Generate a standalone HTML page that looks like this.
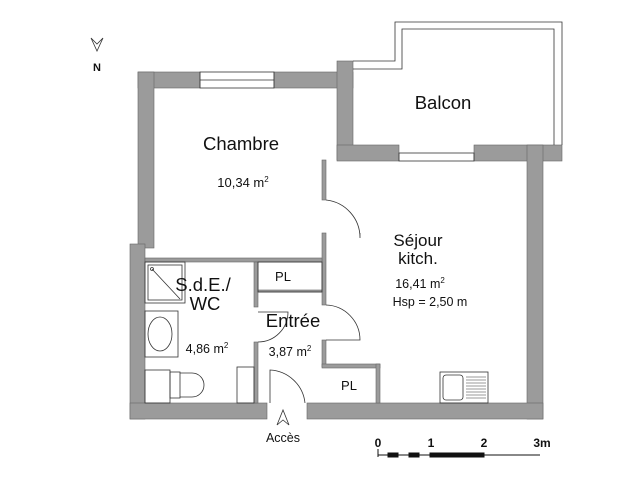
<!DOCTYPE html>
<html><head><meta charset="utf-8"><style>
html,body{margin:0;padding:0;background:#fff;}
svg{display:block;}
text{font-family:"Liberation Sans",Arial,sans-serif;fill:#111;}
</style></head><body>
<svg width="640" height="480" viewBox="0 0 640 480" xmlns="http://www.w3.org/2000/svg">
<g fill="#9b9b9b" stroke="#666" stroke-width="0.6">
<rect x="138" y="72" width="62" height="16"/>
<rect x="274" y="72" width="79" height="16"/>
<rect x="138" y="72" width="16" height="176"/>
<rect x="130" y="244" width="15" height="175"/>
<rect x="337" y="61" width="16" height="99"/>
<rect x="337" y="145" width="62" height="16"/>
<rect x="474" y="145" width="88" height="16"/>
<rect x="527" y="145" width="16" height="274"/>
<rect x="130" y="403" width="137" height="16"/>
<rect x="307" y="403" width="236" height="16"/>
<rect x="322" y="160" width="4" height="40"/>
<rect x="322" y="233" width="4" height="72"/>
<rect x="322" y="340" width="4" height="27"/>
<rect x="322" y="364" width="58" height="4"/>
<rect x="376" y="364" width="4" height="39"/>
<rect x="145" y="258" width="177" height="4"/>
<rect x="254" y="262" width="4" height="45"/>
<rect x="254" y="342" width="4" height="61"/>
<rect x="258" y="290" width="64" height="2" />
</g>
<g fill="none" stroke="#333" stroke-width="0.8">
<rect x="200" y="72" width="74" height="16"/><line x1="200" y1="80" x2="274" y2="80"/>
<rect x="399" y="153" width="75" height="8"/>
<path d="M353 61 H395 V22 H562 V145"/>
<path d="M353 69 H402 V29 H554 V145"/>
<path d="M326 200 A38 38 0 0 1 360 238 V233"/>
<path d="M326 305 A35 35 0 0 1 360 340 H326"/>
<path d="M258 342 A30 30 0 0 0 288 312 H258"/>
<path d="M270 403 V370 A37 37 0 0 1 305 403"/>
<rect x="258" y="262" width="64" height="30"/>
<rect x="145" y="262" width="40" height="41"/>
<rect x="148" y="265" width="34" height="35"/>
<line x1="152" y1="269" x2="180" y2="299"/>
<circle cx="152" cy="269" r="1.5"/>
<rect x="145" y="311" width="33" height="46"/>
<ellipse cx="160" cy="334" rx="12" ry="17"/>
<rect x="145" y="370" width="25" height="33"/>
<rect x="170" y="372" width="10" height="26"/>
<path d="M180 373 H192 A12 12 0 0 1 192 397 H180"/>
<rect x="237" y="367" width="17" height="36"/>
<rect x="440" y="372" width="48" height="31"/>
<rect x="443" y="375" width="20" height="25" rx="3"/>
<g stroke-width="0.6"><line x1="466" y1="377" x2="486" y2="377"/><line x1="466" y1="380" x2="486" y2="380"/><line x1="466" y1="383" x2="486" y2="383"/><line x1="466" y1="386" x2="486" y2="386"/><line x1="466" y1="389" x2="486" y2="389"/><line x1="466" y1="392" x2="486" y2="392"/><line x1="466" y1="395" x2="486" y2="395"/><line x1="466" y1="398" x2="486" y2="398"/></g>
<path d="M91 38 L97 51 L103 38 L97 44 Z"/>
<path d="M277 425 L283 410 L289 425 L283 420 Z"/>
</g>
<g stroke="#111" fill="#111">
<line x1="378" y1="449" x2="378" y2="457" stroke-width="1"/>
<line x1="378" y1="455" x2="540" y2="455" stroke-width="1"/>
<rect x="430" y="453" width="54" height="4"/>
<rect x="388" y="453" width="10" height="4"/><rect x="409" y="453" width="10" height="4"/>
</g>
<g text-anchor="middle">
<text x="97" y="71" font-size="11" font-weight="bold">N</text>
<text x="241" y="150" font-size="18.5">Chambre</text>
<text x="243" y="187" font-size="13">10,34 m<tspan font-size="8" dy="-5">2</tspan></text>
<text x="443" y="109" font-size="18.5">Balcon</text>
<text x="418" y="246" font-size="17">Séjour</text>
<text x="418" y="264" font-size="17">kitch.</text>
<text x="420" y="288" font-size="12.5" fill="#444">16,41 m<tspan font-size="8" dy="-5">2</tspan></text>
<text x="430" y="306" font-size="12.5">Hsp = 2,50 m</text>
<text x="203" y="291" font-size="18.5">S.d.E./</text>
<text x="205" y="310" font-size="18.5">WC</text>
<text x="283" y="281" font-size="13">PL</text>
<text x="293" y="327" font-size="18.5">Entrée</text>
<text x="290" y="356" font-size="12.5">3,87 m<tspan font-size="8" dy="-5">2</tspan></text>
<text x="207" y="353" font-size="12.5">4,86 m<tspan font-size="8" dy="-5">2</tspan></text>
<text x="349" y="390" font-size="13">PL</text>
<text x="283" y="442" font-size="12.5">Accès</text>
<g font-size="12" font-weight="bold">
<text x="378" y="447">0</text><text x="431" y="447">1</text><text x="484" y="447">2</text><text x="542" y="447">3m</text>
</g>
</g>
</svg>
</body></html>
